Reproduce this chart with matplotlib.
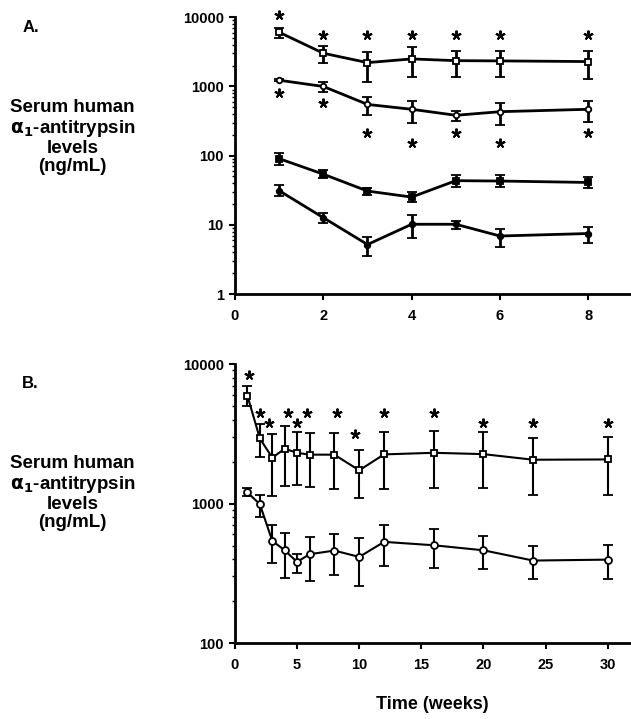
import matplotlib
matplotlib.use('Agg')
import matplotlib.pyplot as plt
from matplotlib.ticker import LogLocator, NullFormatter, FixedLocator

plt.rcParams['font.family'] = ['Liberation Sans', 'DejaVu Sans']
plt.rcParams['font.weight'] = 'bold'
plt.rcParams['mathtext.default'] = 'bf'

# panel A: weeks 1-8
weeks_a = [1, 2, 3, 4, 5, 6, 8]
a1 = [6070, 3020, 2210, 2500, 2360, 2340, 2290]
a1_hi = [6900, 3850, 3190, 3680, 3300, 3290, 3260]
a1_lo = [5080, 2160, 1170, 1360, 1390, 1370, 1280]
a2 = [1230, 1000, 550, 468, 383, 432, 468]
a2_hi = [1270, 1170, 710, 624, 442, 584, 617]
a2_lo = [1190, 840, 387, 300, 321, 277, 309]
a3 = [90.5, 54, 30.8, 25.2, 43.5, 43, 41]
a3_hi = [110, 62, 34.5, 30, 52.5, 52, 49.5]
a3_lo = [73, 47, 27, 21.6, 35.6, 35, 34]
a4 = [31.2, 12.7, 5.2, 10.2, 10.2, 6.9, 7.5]
a4_hi = [37.7, 14.7, 6.7, 13.9, 11.5, 8.6, 9.2]
a4_lo = [26, 10.7, 3.5, 6.5, 8.6, 4.8, 5.5]
star_a_top = [10800, 5550, 5550, 5550, 5550, 5550, 5550]
star_a_low = [797, 571, 215, 154, 215, 154, 215]

# panel B: weeks 1-30
weeks_b = [1, 2, 3, 4, 5, 6, 8, 10, 12, 16, 20, 24, 30]
b1 = [5930, 2930, 2130, 2470, 2310, 2240, 2240, 1730, 2250, 2310, 2260, 2060, 2070]
b1_hi = [6980, 3690, 3150, 3590, 3240, 3180, 3210, 2420, 3240, 3300, 3250, 2940, 2990]
b1_lo = [5020, 2140, 1130, 1330, 1360, 1320, 1270, 1090, 1270, 1300, 1300, 1150, 1150]
b2 = [1200, 990, 540, 462, 381, 433, 460, 414, 531, 502, 462, 390, 396]
b2_hi = [1290, 1150, 703, 619, 438, 573, 609, 567, 703, 655, 583, 494, 508]
b2_lo = [1130, 798, 377, 294, 315, 280, 308, 258, 355, 343, 341, 286, 288]
star_b_x = [1.15, 2.0, 2.75, 4.3, 5.0, 5.8, 8.2, 9.7, 12, 16, 20, 24, 30]
star_b_y = [8340, 4420, 3750, 4420, 3750, 4420, 4420, 3150, 4420, 4420, 3750, 3750, 3750]


def err(v, hi, lo):
    return [[a - b for a, b in zip(v, lo)], [b - a for a, b in zip(v, hi)]]


def series(ax, x, v, hi, lo, marker, face, lw, ms):
    ax.errorbar(x, v, yerr=err(v, hi, lo), color='black', lw=lw, marker=marker,
                ms=ms, mfc=face, mec='black', mew=1.3, capsize=3.5,
                capthick=lw, elinewidth=lw)


def stars(ax, x, y):
    ax.plot(x, y, ls='none', marker=(5, 2, 0), ms=7, mew=1.4, color='black',
            clip_on=False)


def style(ax, xlim, xticks, ylim):
    ax.set_yscale('log')
    ax.set_xlim(*xlim)
    ax.set_ylim(*ylim)
    ax.xaxis.set_major_locator(FixedLocator(xticks))
    ax.yaxis.set_major_locator(LogLocator(base=10))
    ax.yaxis.set_minor_locator(LogLocator(base=10, subs=range(2, 10)))
    ax.yaxis.set_minor_formatter(NullFormatter())
    ax.yaxis.set_major_formatter(plt.FuncFormatter(lambda v, p: '%d' % v))
    for s in ['top', 'right']:
        ax.spines[s].set_visible(False)
    for s in ['left', 'bottom']:
        ax.spines[s].set_linewidth(2)
    ax.tick_params(which='major', direction='out', length=4, width=1.5,
                   labelsize=10.5, pad=4)
    ax.tick_params(axis='x', pad=7)
    ax.tick_params(axis='y', which='minor', direction='out', length=2, width=1)
    for lab in ax.get_xticklabels() + ax.get_yticklabels():
        lab.set_fontweight('bold')


fig = plt.figure(figsize=(6.31, 7.19), dpi=100)
ax_a = fig.add_axes([0.3724, 0.591, 0.63, 0.385])
ax_b = fig.add_axes([0.3724, 0.1057, 0.63, 0.388])

series(ax_a, weeks_a, a1, a1_hi, a1_lo, 's', 'white', 2, 4)
series(ax_a, weeks_a, a2, a2_hi, a2_lo, 'o', 'white', 2, 4)
series(ax_a, weeks_a, a3, a3_hi, a3_lo, 's', 'black', 2, 4)
series(ax_a, weeks_a, a4, a4_hi, a4_lo, 'o', 'black', 2, 4)
stars(ax_a, weeks_a, star_a_top)
stars(ax_a, weeks_a, star_a_low)
style(ax_a, (0, 9), [0, 2, 4, 6, 8], (1, 10000))

series(ax_b, weeks_b, b1, b1_hi, b1_lo, 's', 'white', 1.5, 5)
series(ax_b, weeks_b, b2, b2_hi, b2_lo, 'o', 'white', 1.5, 5)
stars(ax_b, star_b_x, star_b_y)
style(ax_b, (0, 32), [0, 5, 10, 15, 20, 25, 30], (100, 10000))

ylab = 'Serum human\n$\\alpha_1$-antitrypsin\nlevels\n(ng/mL)'
fig.text(0.035, 0.962, 'A.', fontsize=12, fontweight='bold', va='center')
fig.text(0.035, 0.467, 'B.', fontsize=12, fontweight='bold', va='center')
for yc in (0.809, 0.314):
    fig.text(0.115, yc, ylab, fontsize=13.5, fontweight='bold', ha='center',
             va='center', linespacing=1.1)
fig.text(0.685, 0.0195, 'Time (weeks)', fontsize=13, fontweight='bold',
         ha='center', va='center')

fig.savefig('out.png', dpi=100)
